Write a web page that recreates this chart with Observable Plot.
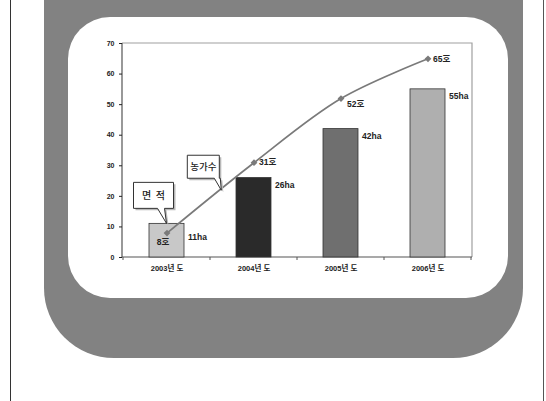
<!DOCTYPE html>
<html><head><meta charset="utf-8">
<script src="https://cdn.jsdelivr.net/npm/d3@7"></script>
<script src="https://cdn.jsdelivr.net/npm/@observablehq/plot@0.6"></script>
<style>
html,body{margin:0;padding:0;background:#fff;}
#wrap{position:relative;width:546px;height:401px;overflow:hidden;}
.bl{position:absolute;top:0;width:1px;height:401px;background:#333;}
#gray{position:absolute;left:44px;top:-80px;width:479px;height:438px;background:#828282;border-radius:70px;}
#white{position:absolute;left:68px;top:17px;width:440px;height:281px;background:#fff;border-radius:42px;}
#chart{position:absolute;left:0;top:0;}
</style></head><body>
<div id="wrap">
  <div class="bl" style="left:10px"></div>
  <div class="bl" style="left:543px;background:#555"></div>
  <div id="gray"></div>
  <div id="white"></div>
  <div id="chart"></div>
</div>
<script>
const years = ["2003년 도", "2004년 도", "2005년 도", "2006년 도"];
const areaHa = [11, 26, 42, 55];
const farms = [8, 31, 52, 65];
const areaLabels = ["11ha", "26ha", "42ha", "55ha"];
const farmLabels = ["8호", "31호", "52호", "65호"];
const barColors = ["#c8c8c8", "#2a2a2a", "#6f6f6f", "#afafaf"];
const yTicks = [0, 10, 20, 30, 40, 50, 60, 70];
const calloutTexts = ["면  적", "농가수"];

const rows = years.map((year, i) => ({
  year, area: areaHa[i], farms: farms[i],
  areaLabel: areaLabels[i], farmLabel: farmLabels[i], color: barColors[i]
}));

const font = "'Liberation Sans','Noto Sans CJK KR',sans-serif";
const kfont = "'Noto Sans CJK KR','Liberation Sans',sans-serif";

function frameAndTicks(index, scales, values, dims) {
  const x = scales.x;
  const L = dims.marginLeft, R = dims.width - dims.marginRight;
  const T = dims.marginTop, B = dims.height - dims.marginBottom;
  const g = d3.create("svg:g");
  g.append("path").attr("d", `M${L},${T}H${R}V${B}`)
    .attr("fill", "none").attr("stroke", "#a0a0a0").attr("stroke-width", 1.2);
  g.append("path").attr("d", `M${L},${T}V${B}H${R}`)
    .attr("fill", "none").attr("stroke", "#555").attr("stroke-width", 1.2);
  const bw = x.bandwidth();
  const step = x(years[1]) - x(years[0]);
  const bounds = years.map(yr => x(yr) - (step - bw) / 2).concat([x(years[years.length - 1]) + bw + (step - bw) / 2]);
  for (const bx of bounds) {
    g.append("line").attr("x1", bx).attr("x2", bx).attr("y1", B).attr("y2", B + 3)
      .attr("stroke", "#555");
  }
  return g.node();
}

function callouts(index, scales) {
  const x = scales.x, y = scales.y;
  const bw = x.bandwidth();
  const cx = yr => x(yr) + bw / 2;
  const g = d3.create("svg:g");
  const a1 = [cx(years[0]), y(areaHa[0])];
  const t = 0.63;
  const a2 = [cx(years[0]) + t * (cx(years[1]) - cx(years[0])),
              y(farms[0] + t * (farms[1] - farms[0])) + 2];
  const specs = [
    {a: a1, text: calloutTexts[0], left: -33, width: 40, bottom: -15, height: 26, p0: -9, p1: -2, size: 10},
    {a: a2, text: calloutTexts[1], left: -34, width: 32, bottom: -12, height: 23, p0: -7, p1: -1, size: 9.5}
  ];
  for (const s of specs) {
    const [tx, ty] = s.a;
    const l = tx + s.left, r = l + s.width, b = ty + s.bottom, tp = b - s.height;
    const d = `M${l},${tp}H${r}V${b}H${tx + s.p1}L${tx},${ty}L${tx + s.p0},${b}H${l}Z`;
    g.append("path").attr("d", d).attr("transform", "translate(2,2)").attr("fill", "#b8b8b8");
    g.append("path").attr("d", d).attr("fill", "#fff").attr("stroke", "#333").attr("stroke-width", 1);
    g.append("text").attr("x", (l + r) / 2).attr("y", (tp + b) / 2).attr("dy", "0.36em")
      .attr("text-anchor", "middle").attr("font-family", kfont).attr("font-size", s.size)
      .attr("font-weight", 500).attr("fill", "#222").attr("xml:space", "preserve")
      .style("white-space", "pre").text(s.text);
  }
  return g.node();
}

const labelStyle = {fontSize: 8.5, fontWeight: "bold", fill: "#222", fontFamily: font};

const chart = Plot.plot({
  width: 546, height: 401,
  marginLeft: 122, marginRight: 74, marginTop: 43, marginBottom: 144,
  style: {background: "transparent", fontFamily: font, overflow: "visible"},
  x: {domain: years, paddingInner: 0.6, paddingOuter: 0.3, axis: null},
  y: {domain: [0, 70], axis: null},
  marks: [
    frameAndTicks,
    Plot.barY(rows, {x: "year", y: "area", fill: "color", stroke: "#333", strokeWidth: 0.8}),
    Plot.axisY({ticks: yTicks, tickSize: 3, tickPadding: 5, fontSize: 7, fontWeight: "bold", color: "#222", label: null}),
    Plot.axisX({tickSize: 0, tickPadding: 8, fontSize: 7.5, fontWeight: "bold", color: "#222", label: null}),
    Plot.line(rows, {x: "year", y: "farms", curve: "catmull-rom", stroke: "#7a7a7a", strokeWidth: 1.7}),
    Plot.dot(rows, {x: "year", y: "farms", symbol: "square", rotate: 45, r: 2.7, fill: "#7a7a7a"}),
    Plot.text(rows.slice(0, 1), {x: "year", y: "area", text: "areaLabel", textAnchor: "start", dx: 21, dy: 13, ...labelStyle}),
    Plot.text(rows.slice(1), {x: "year", y: "area", text: "areaLabel", textAnchor: "start", dx: 21, dy: 7, ...labelStyle}),
    Plot.text(rows.slice(0, 1), {x: "year", y: "farms", text: "farmLabel", textAnchor: "middle", dx: -4, dy: 9, ...labelStyle}),
    Plot.text([rows[1], rows[3]], {x: "year", y: "farms", text: "farmLabel", textAnchor: "start", dx: 5, dy: 0, ...labelStyle}),
    Plot.text([rows[2]], {x: "year", y: "farms", text: "farmLabel", textAnchor: "start", dx: 6, dy: 6, ...labelStyle}),
    callouts
  ]
});
document.getElementById("chart").appendChild(chart);
</script>
</body></html>
